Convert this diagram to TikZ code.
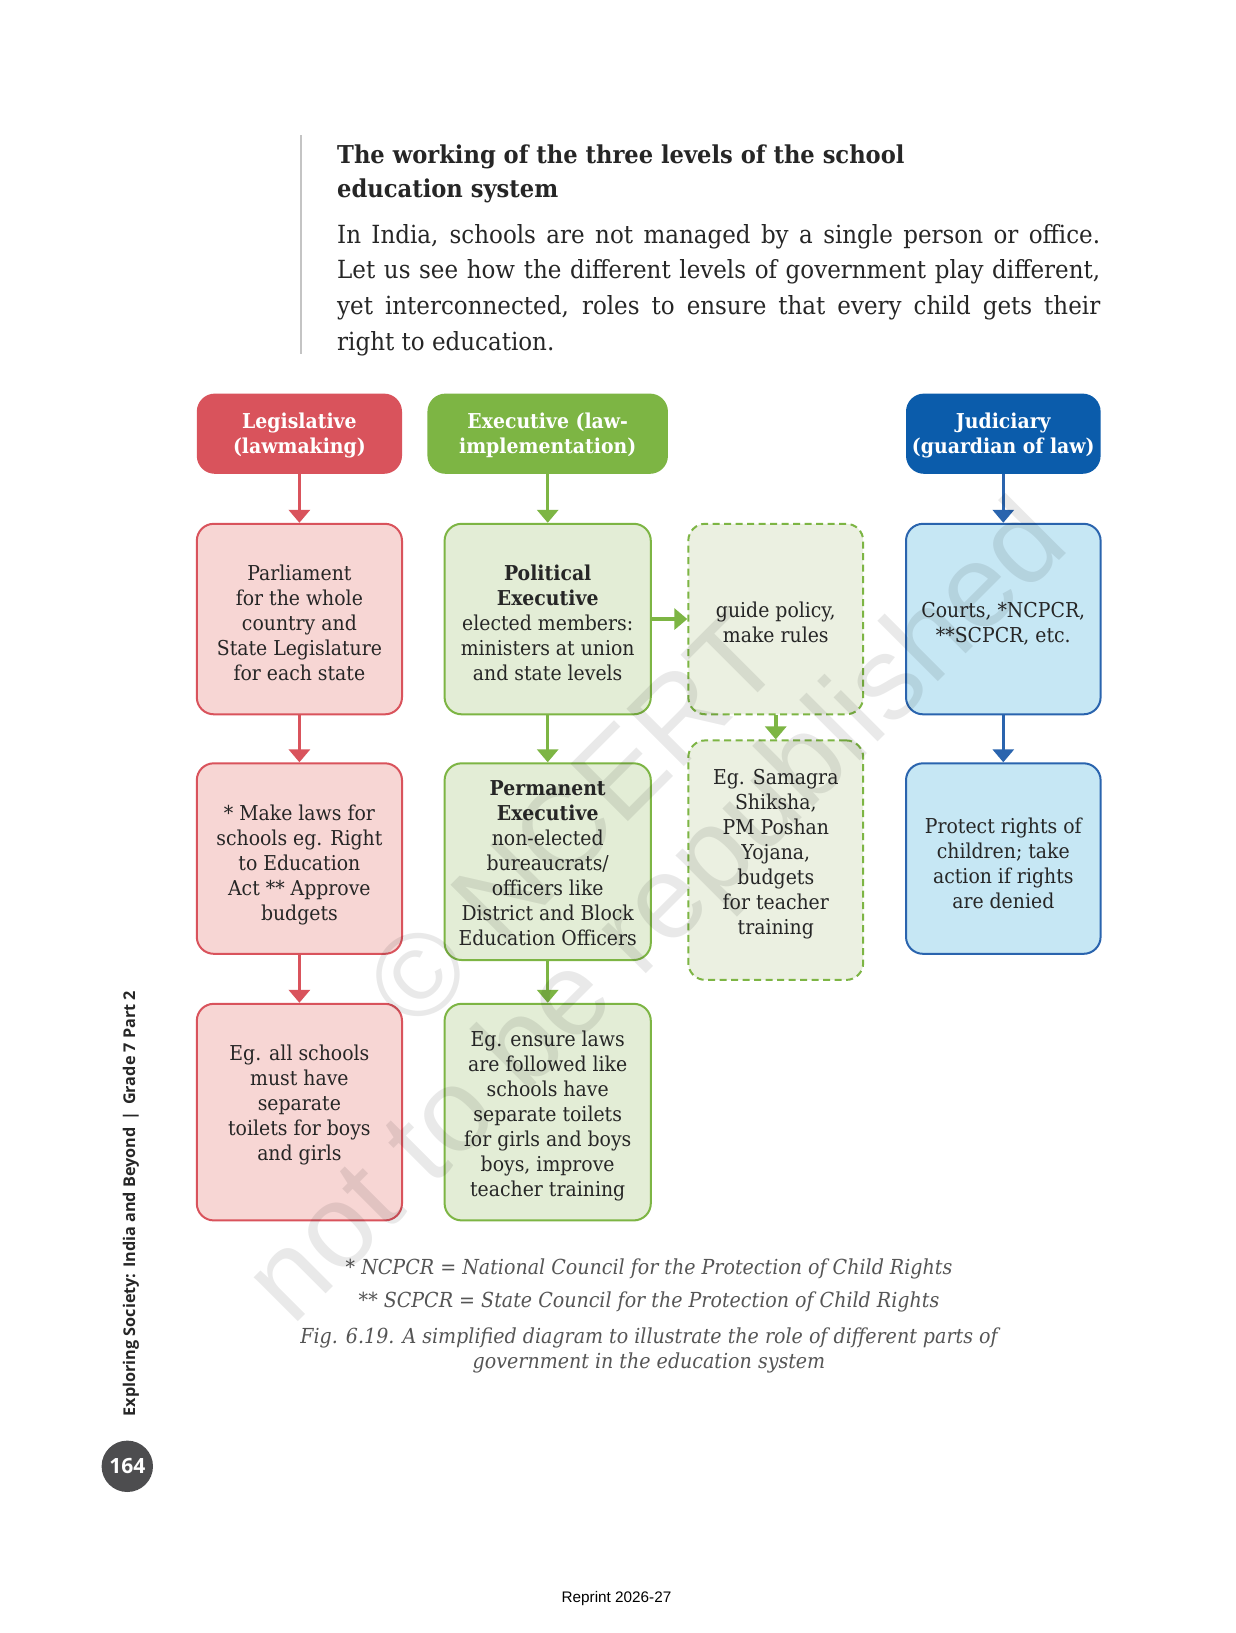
\documentclass[tikz,border=0pt]{standalone}
\usepackage{fontspec}
\setmainfont[FakeStretch=0.92]{DejaVu Serif}
\newfontfamily\sidefont{Open Sans}
\newfontfamily\arialfont{Liberation Sans}
\usetikzlibrary{arrows.meta,calc}

\definecolor{legred}{HTML}{D9535C}
\definecolor{legpink}{HTML}{F7D6D4}
\definecolor{exgreen}{HTML}{7DB544}
\definecolor{exlight}{HTML}{E3EDD6}
\definecolor{exlighter}{HTML}{EBF0E1}
\definecolor{judblue}{HTML}{0B5CAB}
\definecolor{judline}{HTML}{2A64AE}
\definecolor{judlight}{HTML}{C6E7F4}
\definecolor{ink}{HTML}{262626}
\definecolor{capgray}{HTML}{555555}
\definecolor{pagegray}{HTML}{4D4D4F}
\definecolor{rulegray}{HTML}{C4C4C4}

\tikzset{
  hdr/.style={rounded corners=18pt, inner sep=0pt},
  htext/.style={align=center, inner sep=0pt, text=white,
    font=\fontsize{20.5}{25}\selectfont\bfseries},
  boxbase/.style={rounded corners=17pt, inner sep=0pt, line width=2pt},
  pbox/.style={boxbase, draw=legred, fill=legpink},
  gbox/.style={boxbase, draw=exgreen, fill=exlight},
  dbox/.style={boxbase, draw=exgreen, fill=exlighter, dash pattern=on 7pt off 4.5pt},
  bbox/.style={boxbase, draw=judline, fill=judlight},
  btext/.style={align=center, text=ink, inner sep=0pt, font=\fontsize{20.5}{25}\selectfont},
  conn/.style={line width=3.5pt, -{Triangle[width=21pt,length=13pt]}},
  redarrow/.style={conn, draw=legred, fill=legred},
  greenarrow/.style={conn, draw=exgreen, fill=exgreen},
  bluearrow/.style={conn, draw=judline, fill=judline},
  para/.style={anchor=base west, inner sep=0pt, text=ink, font=\fontsize{25}{35}\selectfont},
  headline/.style={anchor=base west, inner sep=0pt, text=ink, font=\fontsize{24.6}{33}\selectfont\bfseries},
  foot/.style={anchor=base, inner sep=0pt, text=capgray, font=\fontsize{20.7}{25}\selectfont\itshape},
  wmark/.style={rotate=45, inner sep=0pt, text=black, opacity=0.085,
    font=\arialfont\fontsize{118}{120}\selectfont}
}

\begin{document}
\begin{tikzpicture}[x=1pt, y=-1pt]
\fill[white] (0,0) rectangle (1235,1633);
\useasboundingbox (0,0) rectangle (1235,1633);

% intro text
\coordinate (rtop) at (301,135);
\coordinate (rbot) at (301,354);
\draw[rulegray, line width=2pt] (rtop) -- (rbot);
\node[headline] (h1) at (337,163) {The working of the three levels of the school};
\node[headline] (h2) at (337,197) {education system};
\node[para] (p1) at (337,243) {\makebox[763pt][s]{In India, schools are not managed by a single person or office.}};
\node[para] (p2) at (337,278.7) {\makebox[763pt][s]{Let us see how the different levels of government play different,}};
\node[para] (p3) at (337,314.3) {\makebox[763pt][s]{yet interconnected, roles to ensure that every child gets their}};
\node[para] (p4) at (337,350) {right to education.};

% headers
\node[hdr, fill=legred, minimum width=205.2pt, minimum height=80.2pt] (leg) at (299.4,433.7) {};
\node[hdr, fill=exgreen, minimum width=240.5pt, minimum height=80.2pt] (exe) at (547.7,433.7) {};
\node[hdr, fill=judblue, minimum width=194.6pt, minimum height=80.2pt] (jud) at (1003.3,433.7) {};
\node[htext] (tleg) at (299.4,435.7) {Legislative\\(lawmaking)};
\node[htext] (texe) at (547.7,435.7) {Executive (law-\\implementation)};
\node[htext] (tjud) at (1003.3,435.7) {Judiciary\\(guardian of law)};

% row 2
\node[pbox, minimum width=205.2pt, minimum height=190.5pt] (parl) at (299.4,619.05) {};
\node[gbox, minimum width=206.2pt, minimum height=190.5pt] (pol) at (547.7,619.05) {};
\node[dbox, minimum width=174.9pt, minimum height=190.5pt] (guide) at (775.75,619.05) {};
\node[bbox, minimum width=194.6pt, minimum height=190.5pt] (courts) at (1003.3,619.05) {};

% row 3
\node[pbox, minimum width=205.2pt, minimum height=190.5pt] (laws) at (299.4,858.55) {};
\node[gbox, minimum width=206.2pt, minimum height=196.7pt] (perm) at (547.7,861.65) {};
\node[dbox, minimum width=174.9pt, minimum height=239.5pt] (samagra) at (775.75,860.15) {};
\node[bbox, minimum width=194.6pt, minimum height=190.5pt] (protect) at (1003.3,858.55) {};

% row 4
\node[pbox, minimum width=205.2pt, minimum height=216.6pt] (eall) at (299.4,1112.1) {};
\node[gbox, minimum width=206.2pt, minimum height=216.6pt] (ensure) at (547.7,1112.1) {};

% box texts
\node[btext] (tparl) at (299.4,622.7) {Parliament\\for the whole\\country and\\State Legislature\\for each state};
\node[btext] (tpol) at (547.7,622.7) {\textbf{Political}\\\textbf{Executive}\\elected members:\\ministers at union\\and state levels};
\node[btext] (tguide) at (775.8,622.8) {guide policy,\\make rules};
\node[btext] (tcourts) at (1003.3,623.8) {Courts, *NCPCR,\\**SCPCR, etc.};
\node[btext] (tlaws) at (299.4,865.3) {* Make laws for\\schools eg. Right\\to Education\\Act ** Approve\\budgets};
\node[btext] (tperm) at (547.7,863.2) {\textbf{Permanent}\\\textbf{Executive}\\non-elected\\bureaucrats/\\officers like\\District and Block\\Education Officers};
\node[btext] (tsam) at (775.8,853.9) {Eg. Samagra\\Shiksha,\\PM Poshan\\Yojana,\\budgets\\for teacher\\training};
\node[btext] (tprot) at (1003.3,863.2) {Protect rights of\\children; take\\action if rights\\are denied};
\node[btext] (teall) at (299.4,1105.3) {Eg. all schools\\must have\\separate\\toilets for boys\\and girls};
\node[btext] (tens) at (547.7,1116.3) {Eg. ensure laws\\are followed like\\schools have\\separate toilets\\for girls and boys\\boys, improve\\teacher training};

% connectors
\draw[redarrow] (leg.south) -- (parl.north);
\draw[redarrow] (parl.south) -- (laws.north);
\draw[redarrow] (laws.south) -- (eall.north);
\draw[greenarrow] (exe.south) -- (pol.north);
\draw[greenarrow] (pol.south) -- (perm.north);
\draw[greenarrow] (perm.south) -- (ensure.north);
\draw[greenarrow] (pol.east) -- (guide.west);
\draw[greenarrow] (guide.south) -- (samagra.north);
\draw[bluearrow] (jud.south) -- (courts.north);
\draw[bluearrow] (courts.south) -- (protect.north);

% footnotes and caption
\node[foot] (f1) at (649,1274) {* NCPCR = National Council for the Protection of Child Rights};
\node[foot] (f2) at (649,1307.5) {** SCPCR = State Council for the Protection of Child Rights};
\node[foot] (c1) at (649,1343) {Fig. 6.19. A simplified diagram to illustrate the role of different parts of};
\node[foot] (c2) at (649,1368) {government in the education system};

% page furniture
\node[rotate=90, inner sep=0pt, text=ink, font=\sidefont\fontsize{16.2}{18}\selectfont\bfseries] (side) at (131,1203.5) {Exploring Society: India and Beyond \,|\, Grade 7 Part 2};
\node[circle, fill=pagegray, minimum size=51.4pt, inner sep=0pt, text=white, font=\sidefont\fontsize{21}{21}\selectfont\bfseries] (pg) at (127.3,1466.3) {164};
\node[inner sep=0pt, text=black, font=\arialfont\fontsize{15.3}{18}\selectfont] (reprint) at (616.5,1599) {Reprint 2026-27};

% watermark
\node[wmark] (wm1) at (661,916) {not to be republished};
\node[wmark] (wm2) at (573,820) {© NCERT};
\end{tikzpicture}
\end{document}
